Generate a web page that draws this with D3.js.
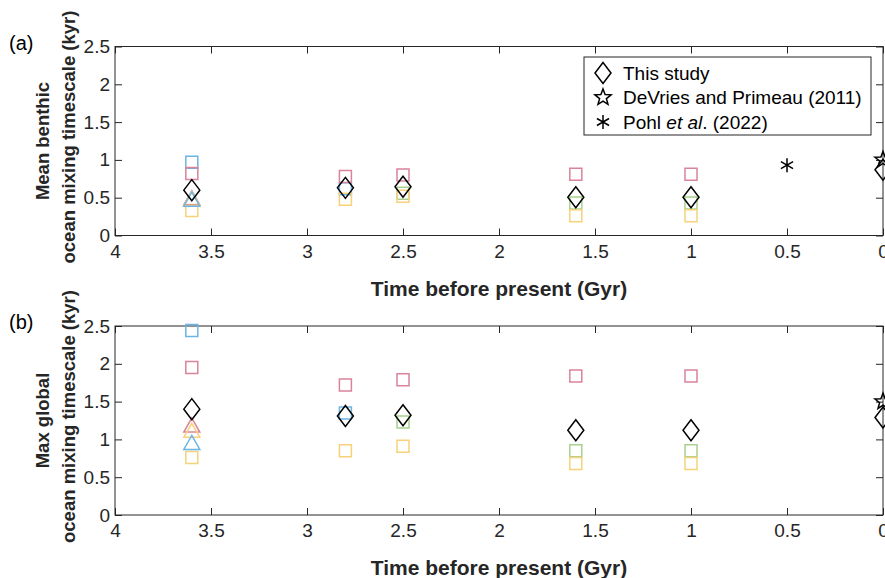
<!DOCTYPE html>
<html>
<head>
<meta charset="utf-8">
<script src="https://cdn.jsdelivr.net/npm/d3@7"></script>
<style>
  body { margin: 0; background: #fff; }
  svg { display: block; font-family: "Liberation Sans", Arial, sans-serif; }
  .tick text { font-size: 19px; fill: #262626; }
  .tick line { stroke: #262626; }
</style>
</head>
<body>
<div id="chart"></div>
<script>
// Tick values
var xTicks = [4, 3.5, 3, 2.5, 2, 1.5, 1, 0.5, 0],
    yTicks = [0, 0.5, 1, 1.5, 2, 2.5];

// Panel (a): mean benthic ocean mixing timescale (kyr)
var aBlueSqAge = [3.6, 2.8],
    aBlueSqVal = [0.97, 0.62],
    aPinkSqAge = [3.6, 2.8, 2.5, 1.6, 1.0],
    aPinkSqVal = [0.82, 0.78, 0.80, 0.81, 0.81],
    aGreenSqAge = [2.5, 1.6, 1.0],
    aGreenSqVal = [0.56, 0.43, 0.43],
    aYellowSqAge = [3.6, 2.8, 2.5, 1.6, 1.0],
    aYellowSqVal = [0.33, 0.48, 0.52, 0.26, 0.26],
    aTriAge = [3.6, 3.6, 3.6],
    aTriVal = [0.50, 0.49, 0.48],
    aDiamondAge = [3.6, 2.8, 2.5, 1.6, 1.0, 0],
    aDiamondVal = [0.60, 0.63, 0.645, 0.505, 0.505, 0.87],
    aStarAge = [0],
    aStarVal = [1.0],
    aAsteriskAge = [0.5],
    aAsteriskVal = [0.93];

// Panel (b): max global ocean mixing timescale (kyr)
var bBlueSqAge = [3.6, 2.8],
    bBlueSqVal = [2.44, 1.35],
    bPinkSqAge = [3.6, 2.8, 2.5, 1.6, 1.0],
    bPinkSqVal = [1.95, 1.72, 1.79, 1.84, 1.84],
    bGreenSqAge = [2.5, 1.6, 1.0],
    bGreenSqVal = [1.23, 0.85, 0.85],
    bYellowSqAge = [3.6, 2.8, 2.5, 1.6, 1.0],
    bYellowSqVal = [0.76, 0.85, 0.91, 0.68, 0.68],
    bTriAge = [3.6, 3.6, 3.6],
    bTriVal = [1.19, 1.12, 0.96],
    bDiamondAge = [3.6, 2.8, 2.5, 1.6, 1.0, 0],
    bDiamondVal = [1.40, 1.31, 1.32, 1.12, 1.12, 1.29],
    bStarAge = [0],
    bStarVal = [1.50];

var triColors = ["#d9849a", "#f7d27a", "#6cb4e4"];

var legendLabels = ["This study", "DeVries and Primeau (2011)", "Pohl et al. (2022)"];

var colors = { blue: "#6cb4e4", pink: "#d9849a", green: "#a9d18e", yellow: "#f7d27a", axis: "#262626" };

var basewidth = 885,
    baseheight = 578,
    plotLeft = 115,
    plotRight = 883,
    panelHeight = 189;

var svg = d3.select("#chart").append("svg")
    .attr("width", basewidth)
    .attr("height", baseheight);

var xScale = d3.scaleLinear().domain([4, 0]).range([plotLeft, plotRight]);

// Marker path generators (centred on 0,0)
function squarePath(s) { var h = s / 2; return "M" + -h + "," + -h + "H" + h + "V" + h + "H" + -h + "Z"; }
function diamondPath(w, h) { return "M0," + (-h / 2) + "L" + (w / 2) + ",0L0," + (h / 2) + "L" + (-w / 2) + ",0Z"; }
function trianglePath(w, h) { return "M0," + (-h / 2) + "L" + (w / 2) + "," + (h / 2) + "L" + (-w / 2) + "," + (h / 2) + "Z"; }
function starPath(r) {
    var p = [];
    for (var i = 0; i < 10; i++) {
        var rr = i % 2 === 0 ? r : r * 0.42;
        var a = -Math.PI / 2 + i * Math.PI / 5;
        p.push([rr * Math.cos(a), rr * Math.sin(a)]);
    }
    return "M" + p.map(function (d) { return d[0].toFixed(2) + "," + d[1].toFixed(2); }).join("L") + "Z";
}
function asteriskPath(r) {
    var s = "M0," + -r + "V" + r;
    var c = r * Math.cos(Math.PI / 6), n = r * Math.sin(Math.PI / 6);
    s += "M" + -c + "," + -n + "L" + c + "," + n;
    s += "M" + -c + "," + n + "L" + c + "," + -n;
    return s;
}

function zip(ages, vals) { return ages.map(function (a, i) { return { t: a, v: vals[i] }; }); }

// Draw one panel
function drawPanel(top, tag, labelLines, series) {
    var yScale = d3.scaleLinear().domain([0, 2.5]).range([top + panelHeight, top]);
    var g = svg.append("g");

    // box
    g.append("rect")
        .attr("x", plotLeft).attr("y", top)
        .attr("width", plotRight - plotLeft).attr("height", panelHeight)
        .attr("fill", "none").attr("stroke", colors.axis).attr("stroke-width", 1);

    var xAxis = d3.axisBottom(xScale).tickValues(xTicks).tickFormat(d3.format("")).tickSizeInner(-7).tickSizeOuter(0).tickPadding(9);
    var yAxis = d3.axisLeft(yScale).tickValues(yTicks).tickFormat(d3.format("")).tickSizeInner(-7).tickSizeOuter(0).tickPadding(5);

    g.append("g").attr("transform", "translate(0," + (top + panelHeight) + ")").call(xAxis);
    g.append("g").attr("transform", "translate(" + plotLeft + ",0)").call(yAxis);
    // mirrored ticks on top and right
    g.append("g").attr("transform", "translate(0," + top + ")")
        .call(d3.axisTop(xScale).tickValues(xTicks).tickFormat("").tickSizeInner(-7).tickSizeOuter(0));
    g.append("g").attr("transform", "translate(" + plotRight + ",0)")
        .call(d3.axisRight(yScale).tickValues(yTicks).tickFormat("").tickSizeInner(-7).tickSizeOuter(0));
    g.selectAll(".domain").remove();

    // markers
    series.forEach(function (s) {
        g.selectAll(null)
            .data(s.data)
            .enter().append("path")
            .attr("transform", function (d) { return "translate(" + xScale(d.t) + "," + yScale(d.v) + ")"; })
            .attr("d", s.path)
            .attr("fill", "none")
            .attr("stroke", function (d, i) { return s.colors ? s.colors[i] : s.color; })
            .attr("stroke-width", s.width || 1.5)
            .attr("stroke-linejoin", "miter");
    });

    // panel tag
    svg.append("text").attr("x", 9).attr("y", top + 3)
        .attr("font-size", 20).attr("fill", "#000").text(tag);

    // y label (two lines)
    var yc = top + panelHeight / 2;
    svg.append("text")
        .attr("transform", "translate(43," + yc + ") rotate(-90)")
        .attr("text-anchor", "middle").attr("dy", "0.35em")
        .attr("font-size", 18.5).attr("font-weight", "bold").attr("fill", "#262626")
        .text(labelLines[0]);
    svg.append("text")
        .attr("transform", "translate(69," + (yc - 4) + ") rotate(-90)")
        .attr("text-anchor", "middle").attr("dy", "0.35em")
        .attr("font-size", 18.5).attr("font-weight", "bold").attr("fill", "#262626")
        .text(labelLines[1]);

    // x label
    svg.append("text")
        .attr("x", (plotLeft + plotRight) / 2 - 0).attr("y", top + panelHeight + 60)
        .attr("text-anchor", "middle")
        .attr("font-size", 21).attr("font-weight", "bold").attr("fill", "#262626")
        .text("Time before present (Gyr)");

    return g;
}

var sq = squarePath(12),
    dia = diamondPath(16, 21),
    tri = trianglePath(16, 14),
    star = starPath(8.5),
    ast = asteriskPath(7);

drawPanel(46.5, "(a)", ["Mean benthic", "ocean mixing timescale (kyr)"], [
    { data: zip(aBlueSqAge, aBlueSqVal), path: sq, color: colors.blue },
    { data: zip(aPinkSqAge, aPinkSqVal), path: sq, color: colors.pink },
    { data: zip(aGreenSqAge, aGreenSqVal), path: sq, color: colors.green },
    { data: zip(aYellowSqAge, aYellowSqVal), path: sq, color: colors.yellow },
    { data: zip(aTriAge, aTriVal), path: tri, colors: triColors },
    { data: zip(aDiamondAge, aDiamondVal), path: dia, color: "#000" },
    { data: zip(aStarAge, aStarVal), path: star, color: "#000" },
    { data: zip(aAsteriskAge, aAsteriskVal), path: ast, color: "#000" }
]);

drawPanel(326, "(b)", ["Max global", "ocean mixing timescale (kyr)"], [
    { data: zip(bBlueSqAge, bBlueSqVal), path: sq, color: colors.blue },
    { data: zip(bPinkSqAge, bPinkSqVal), path: sq, color: colors.pink },
    { data: zip(bGreenSqAge, bGreenSqVal), path: sq, color: colors.green },
    { data: zip(bYellowSqAge, bYellowSqVal), path: sq, color: colors.yellow },
    { data: zip(bTriAge, bTriVal), path: tri, colors: triColors },
    { data: zip(bDiamondAge, bDiamondVal), path: dia, color: "#000" },
    { data: zip(bStarAge, bStarVal), path: star, color: "#000" }
]);

// Legend (panel a)
var legend = svg.append("g");
legend.append("rect")
    .attr("x", 584).attr("y", 57).attr("width", 287).attr("height", 78)
    .attr("fill", "#fff").attr("stroke", colors.axis).attr("stroke-width", 1);
var legendPaths = [dia, star, ast];
legendLabels.forEach(function (lab, i) {
    var y = 73 + i * 24.5;
    legend.append("path")
        .attr("transform", "translate(603," + y + ")")
        .attr("d", legendPaths[i]).attr("fill", "none").attr("stroke", "#000").attr("stroke-width", 1.5);
    var t = legend.append("text").attr("x", 623).attr("y", y).attr("dy", "0.35em")
        .attr("font-size", 19).attr("fill", "#000");
    if (i === 2) {
        t.append("tspan").text("Pohl ");
        t.append("tspan").attr("font-style", "italic").text("et al");
        t.append("tspan").text(". (2022)");
    } else {
        t.text(lab);
    }
});
</script>
</body>
</html>
